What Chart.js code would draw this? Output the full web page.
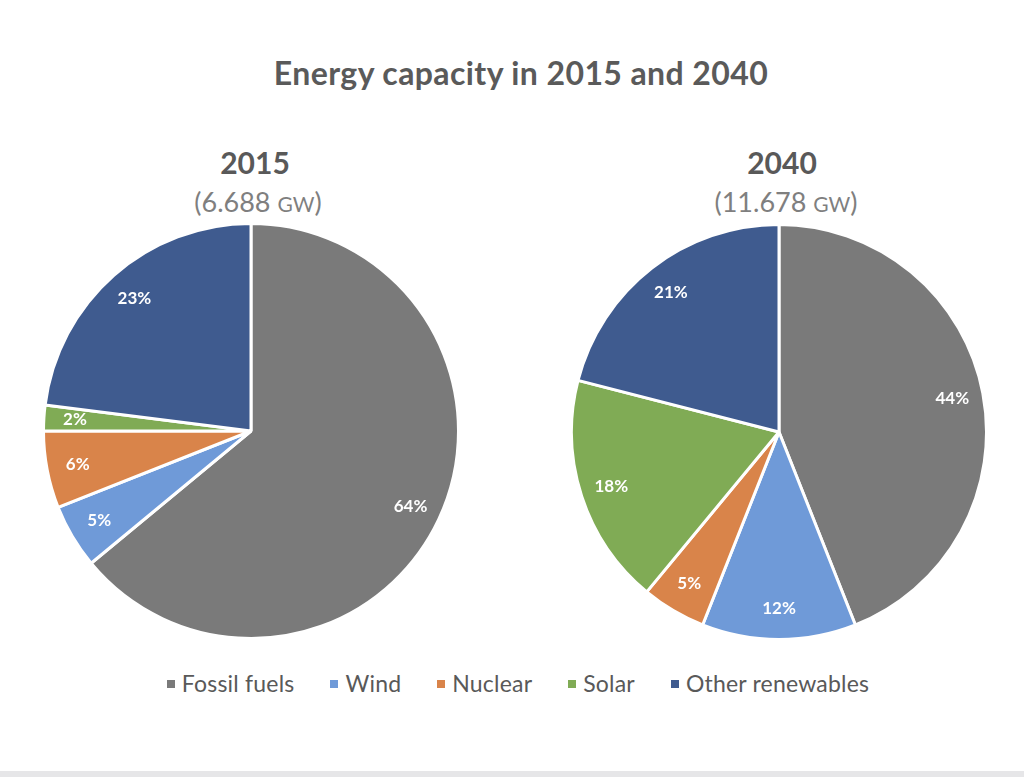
<!DOCTYPE html>
<html>
<head>
<meta charset="utf-8">
<script src="https://cdn.jsdelivr.net/npm/chart.js@4.4.1/dist/chart.umd.min.js"></script>
<style>
  html, body { margin: 0; padding: 0; background: #fff; }
  body { width: 1024px; height: 777px; position: relative; overflow: hidden; font-family: Lato, "Open Sans", sans-serif; }
  #title { position: absolute; left: 0; width: 1042px; top: 53px; text-align: center; font-size: 32px; font-weight: bold; color: #5a5a5a; letter-spacing: 0.4px; }
  .yr { position: absolute; width: 300px; text-align: center; font-size: 30px; font-weight: bold; color: #595959; }
  .sub { position: absolute; width: 300px; text-align: center; font-size: 27px; color: #7f7f7f; }
  .sc { font-size: 21px; }
  .pie { position: absolute; width: 418px; height: 418px; }
  #legend { position: absolute; left: 0; width: 1036px; top: 669px; text-align: center; font-size: 23px; color: #595959; white-space: nowrap; letter-spacing: 0.2px; }
  .li { display: inline-block; margin: 0 18px; }
  .mk { display: inline-block; width: 8px; height: 8px; margin-right: 7px; vertical-align: middle; position: relative; top: -2px; }
  #bottom { position: absolute; left: 0; top: 771px; width: 1024px; height: 6px; background: #e6e6e8; }
</style>
</head>
<body>
<div id="title">Energy capacity in 2015 and 2040</div>
<div class="yr" style="left:105px; top:144px;">2015</div>
<div class="sub" style="left:108px; top:185px;">(6.688 <span class="sc">GW</span>)</div>
<div class="yr" style="left:632px; top:144px;">2040</div>
<div class="sub" style="left:636px; top:185px;">(11.678 <span class="sc">GW</span>)</div>
<div class="pie" style="left:42px; top:222px;"><canvas id="c1"></canvas></div>
<div class="pie" style="left:570px; top:223px;"><canvas id="c2"></canvas></div>
<div id="legend"></div>
<div id="bottom"></div>
<script>
const categories = ["Fossil fuels", "Wind", "Nuclear", "Solar", "Other renewables"];
const values2015 = [64, 5, 6, 2, 23];
const values2040 = [44, 12, 5, 18, 21];
const colors = ["#7a7a7a", "#6f9ad8", "#d9844a", "#80ab55", "#3f5b8f"];

const labelPlugin = {
  id: 'pctLabels',
  afterDatasetsDraw(chart) {
    const ctx = chart.ctx;
    const meta = chart.getDatasetMeta(0);
    const data = chart.data.datasets[0].data;
    ctx.save();
    ctx.font = 'bold 17px Lato, "Open Sans", sans-serif';
    ctx.fillStyle = '#ffffff';
    ctx.textAlign = 'center';
    ctx.textBaseline = 'middle';
    meta.data.forEach((arc, i) => {
      const p = arc.getProps(['x', 'y', 'startAngle', 'endAngle', 'outerRadius'], true);
      const mid = (p.startAngle + p.endAngle) / 2;
      const r = p.outerRadius * 0.85;
      ctx.fillText(data[i] + '%', p.x + Math.cos(mid) * r, p.y + Math.sin(mid) * r);
    });
    ctx.restore();
  }
};

function makePie(id, values) {
  return new Chart(document.getElementById(id), {
    type: 'pie',
    data: {
      labels: categories,
      datasets: [{ data: values, backgroundColor: colors, borderColor: '#ffffff', borderWidth: 3 }]
    },
    options: {
      responsive: true,
      maintainAspectRatio: false,
      animation: false,
      layout: { padding: 0 },
      plugins: { legend: { display: false }, tooltip: { enabled: false } }
    },
    plugins: [labelPlugin]
  });
}
makePie('c1', values2015);
makePie('c2', values2040);

const legend = document.getElementById('legend');
categories.forEach((c, i) => {
  const s = document.createElement('span');
  s.className = 'li';
  s.innerHTML = '<span class="mk" style="background:' + colors[i] + '"></span>' + c;
  legend.appendChild(s);
});
</script>
</body>
</html>
